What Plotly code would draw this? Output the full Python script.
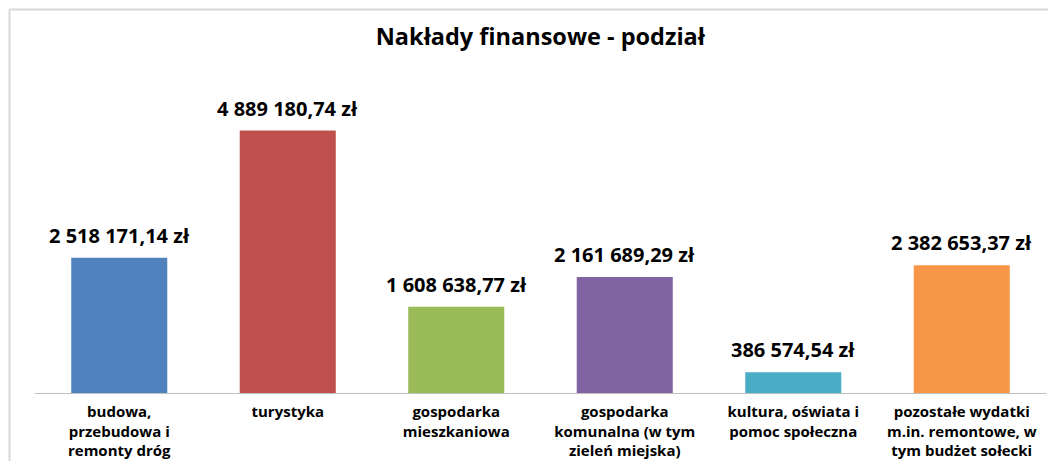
import plotly.graph_objects as go

categories = [
    "budowa,<br>przebudowa i<br>remonty dróg",
    "turystyka",
    "gospodarka<br>mieszkaniowa",
    "gospodarka<br>komunalna (w tym<br>zieleń miejska)",
    "kultura, oświata i<br>pomoc społeczna",
    "pozostałe wydatki<br>m.in. remontowe, w<br>tym budżet sołecki",
]
values = [2518171.14, 4889180.74, 1608638.77, 2161689.29, 386574.54, 2382653.37]
colors = ["#4F81BD", "#C0504D", "#9BBB59", "#8064A2", "#4BACC6", "#F79646"]
title = "Nakłady finansowe - podział"


def pl_fmt(v):
    s = f"{v:,.2f}"
    s = s.replace(",", " ").replace(".", ",")
    return s + " zł"


labels = [pl_fmt(v) for v in values]

FONT = "Open Sans"

fig = go.Figure()
fig.add_trace(go.Bar(
    x=categories, y=values, marker_color=colors, marker_line_width=0,
    hoverinfo="skip",
))

for c, v, t in zip(categories, values, labels):
    fig.add_annotation(x=c, y=v, text=f"<b>{t}</b>", showarrow=False,
                       yanchor="bottom", yshift=7,
                       font=dict(family=FONT, size=20, color="#000000"))

fig.update_layout(
    width=1048, height=453,
    margin=dict(l=27, r=10, t=63, b=68, autoexpand=False),
    paper_bgcolor="white", plot_bgcolor="white",
    bargap=0.43, showlegend=False,
    title=dict(text=f"<b>{title}</b>", x=0.508, xanchor="center",
               y=1 - 29 / 453, yanchor="middle",
               font=dict(family=FONT, size=23.5, color="#000000")),
    xaxis=dict(showline=True, linecolor="#BFBFBF", linewidth=1, ticks="",
               automargin=False, ticklabelstandoff=5,
               tickfont=dict(family=FONT, size=15, color="#000000"),
               tickprefix="<b>", ticksuffix="</b>", fixedrange=True),
    yaxis=dict(range=[0, 6e6], visible=False, showgrid=False, fixedrange=True),
)

# frame of the chart area (light gray top and left edges)
fx = (1.5 - 27) / 1011
fy = (385 - 1.5) / 322
fig.add_shape(type="line", xref="paper", yref="paper",
              x0=fx, x1=1.02, y0=fy, y1=fy,
              line=dict(color="#D9D9D9", width=2))
fig.add_shape(type="line", xref="paper", yref="paper",
              x0=fx, x1=fx, y0=fy, y1=-0.3,
              line=dict(color="#D9D9D9", width=2))

fig.write_html("out.html")
